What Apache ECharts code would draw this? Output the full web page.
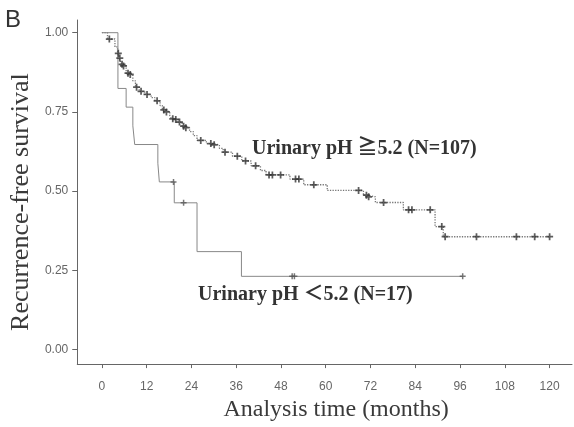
<!DOCTYPE html>
<html><head><meta charset="utf-8">
<script src="https://cdn.jsdelivr.net/npm/echarts@6/dist/echarts.min.js"></script>
<style>html,body{margin:0;padding:0;background:#fff}#c{width:574px;height:427px}</style>
</head><body><div id="c"></div>
<script>
// Tick labels
const xTicks = [0,12,24,36,48,60,72,84,96,108,120];
const yTicks = [0,0.25,0.5,0.75,1];

// Group 1: urinary pH >= 5.2 (N=107) — step times and survival after each step
const g1Time = [0,1.5,3.5,4.2,4.7,5.2,5.6,6.5,7.3,8.3,9.0,10.0,11.5,13.2,14.2,15.6,16.2,17.0,18.2,18.7,19.5,20.4,21.5,22.2,23.5,24.5,25.5,28.0,29.8,31.5,32.5,35.0,37.5,40.0,42.5,44.0,50.4,54.1,60.4,70.1,71.3,73.3,80.8,89.3,91.5];
const g1Surv = [1.0,0.98,0.955,0.935,0.92,0.90,0.895,0.872,0.868,0.848,0.828,0.815,0.805,0.795,0.785,0.77,0.756,0.75,0.738,0.728,0.726,0.718,0.705,0.70,0.688,0.675,0.66,0.65,0.646,0.635,0.623,0.61,0.595,0.58,0.565,0.551,0.538,0.52,0.502,0.487,0.482,0.464,0.441,0.388,0.356];
const g1CensTime = [2,4.4,4.8,5.4,5.8,7.0,7.6,9.3,10.5,12.1,14.8,16.6,17.3,19.0,19.8,20.8,21.9,22.5,26.5,29.2,30.1,33,36.3,38.5,41.2,44.8,45.7,47.9,51.9,52.8,56.8,68.8,70.9,71.5,75.5,82.2,83.1,88,91.1,92,100.4,111.1,116,120];
const g1CensSurv = [0.98,0.935,0.92,0.90,0.895,0.872,0.868,0.828,0.815,0.805,0.785,0.756,0.75,0.728,0.726,0.718,0.705,0.70,0.66,0.65,0.646,0.623,0.61,0.595,0.58,0.551,0.551,0.551,0.538,0.538,0.52,0.502,0.487,0.482,0.464,0.441,0.441,0.441,0.388,0.356,0.356,0.356,0.356,0.356];

// Group 2: urinary pH < 5.2 (N=17)
const g2Time = [0,4.3,6.5,8.3,8.8,15.0,15.4,19.4,25.5,37.4];
const g2Surv = [1.0,0.824,0.765,0.706,0.647,0.588,0.529,0.463,0.309,0.231];
const g2CensTime = [19.2,21.9,51.0,51.6,96.7];
const g2CensSurv = [0.529,0.463,0.231,0.231,0.231];

const label1 = 'Urinary pH \u22675.2 (N=107)';
const label2 = 'Urinary pH \uFF1C5.2 (N=17)';

function stepData(t, s, endT) {
  const d = t.map((v, i) => [v, s[i]]);
  d.push([endT, s[s.length - 1]]);
  return d;
}
const plus = 'path://M3,0h2v3h3v2h-3v3h-2v-3h-3v-2h3z';

const chart = echarts.init(document.getElementById('c'), null, {renderer: 'canvas'});
const sans = 'Liberation Sans, Arial, sans-serif';
const serif = 'Liberation Serif, Times New Roman, Noto Sans CJK SC, serif';
chart.setOption({
  animation: false,
  backgroundColor: '#fff',
  grid: {left: 76, right: 2, top: 20, bottom: 54, containLabel: false},
  xAxis: {
    type: 'value', min: -6.6, max: 126,
    name: 'Analysis time (months)', nameLocation: 'middle', nameGap: 33,
    nameTextStyle: {fontFamily: serif, fontSize: 24, color: '#3a3a3a', padding: [0, 0, 0, 23]},
    axisLine: {show: true, onZero: false, lineStyle: {color: '#666', width: 1}},
    axisTick: {show: true, customValues: xTicks, length: 4, lineStyle: {color: '#666'}},
    axisLabel: {customValues: xTicks, margin: 17, fontFamily: sans, fontSize: 12, color: '#666'},
    splitLine: {show: false}
  },
  yAxis: {
    type: 'value', min: -0.046, max: 1.04,
    name: 'Recurrence-free survival', nameLocation: 'middle', nameGap: 42, nameRotate: 90,
    nameTextStyle: {fontFamily: serif, fontSize: 26, color: '#3a3a3a', padding: [0, 20, 0, 0]},
    axisLine: {show: true, onZero: false, lineStyle: {color: '#666', width: 1}},
    axisTick: {show: true, customValues: yTicks, length: 5, lineStyle: {color: '#666'}},
    axisLabel: {customValues: yTicks, margin: 9, fontFamily: sans, fontSize: 12, color: '#666',
      formatter: v => v.toFixed(2)},
    splitLine: {show: false}
  },
  series: [
    {type: 'line', step: 'end', data: stepData(g1Time, g1Surv, g1CensTime[g1CensTime.length-1]),
      symbol: 'none', lineStyle: {type: 'dotted', color: '#777', width: 1.3}, z: 2},
    {type: 'scatter', data: g1CensTime.map((t, i) => [t, g1CensSurv[i]]),
      symbol: plus, symbolSize: 7, itemStyle: {color: '#333'}, z: 3},
    {type: 'line', step: 'end', data: stepData(g2Time, g2Surv, g2CensTime[g2CensTime.length-1]),
      symbol: 'none', lineStyle: {type: 'solid', color: '#888', width: 1}, z: 2},
    {type: 'scatter', data: g2CensTime.map((t, i) => [t, g2CensSurv[i]]),
      symbol: plus, symbolSize: 6, itemStyle: {color: '#555'}, z: 3}
  ],
  graphic: [
    {type: 'text', left: 5, top: 8, style: {text: 'B', font: '24px ' + sans, fill: '#333'}},
    {type: 'text', left: 252, top: 139, style: {text: label1, font: 'bold 20px ' + serif, fill: '#333'}},
    {type: 'text', left: 198, top: 285, style: {text: label2, font: 'bold 20px ' + serif, fill: '#333'}}
  ]
});
</script></body></html>
